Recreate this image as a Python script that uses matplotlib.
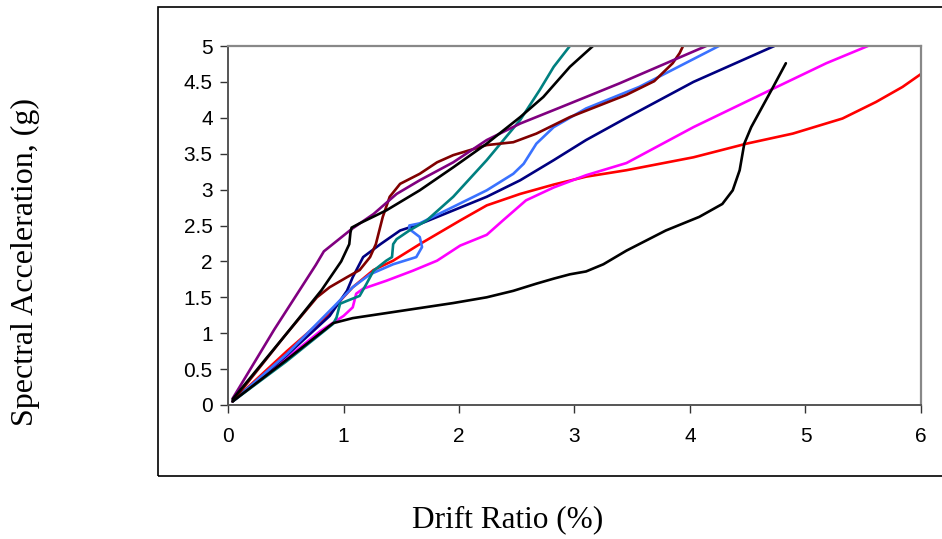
import matplotlib
matplotlib.use("Agg")
import matplotlib.pyplot as plt
from matplotlib.patches import Rectangle
from matplotlib.ticker import FuncFormatter

# ---- data (drift ratio %, spectral acceleration g) ----
black_low_x = [0.04, 0.50, 0.91, 1.08, 1.37, 1.66, 1.95, 2.24, 2.47, 2.67, 2.82, 2.96, 3.10, 3.25, 3.45, 3.79, 4.08, 4.28, 4.37, 4.43, 4.47, 4.53, 4.72, 4.83]
black_low_y = [0.05, 0.62, 1.14, 1.21, 1.28, 1.35, 1.42, 1.50, 1.59, 1.69, 1.76, 1.82, 1.86, 1.96, 2.15, 2.43, 2.62, 2.80, 2.99, 3.27, 3.64, 3.87, 4.43, 4.76]

red_x = [0.04, 0.51, 0.88, 0.97, 1.08, 1.26, 1.43, 1.66, 2.01, 2.24, 2.53, 2.82, 3.10, 3.45, 4.03, 4.49, 4.89, 5.32, 5.61, 5.84, 6.00]
red_y = [0.05, 0.75, 1.27, 1.45, 1.64, 1.88, 2.01, 2.24, 2.57, 2.78, 2.94, 3.07, 3.18, 3.27, 3.45, 3.64, 3.78, 3.99, 4.22, 4.43, 4.61]

magenta_x = [0.04, 0.50, 0.80, 1.00, 1.08, 1.11, 1.17, 1.37, 1.60, 1.81, 2.01, 2.24, 2.38, 2.58, 2.82, 3.10, 3.45, 4.03, 4.70, 5.18, 5.54]
magenta_y = [0.05, 0.64, 1.03, 1.24, 1.36, 1.55, 1.62, 1.73, 1.87, 2.01, 2.22, 2.37, 2.57, 2.85, 3.03, 3.20, 3.37, 3.87, 4.39, 4.76, 5.00]

navy_x = [0.04, 0.50, 0.88, 1.03, 1.08, 1.17, 1.32, 1.49, 1.66, 1.95, 2.24, 2.53, 2.82, 3.10, 3.45, 4.03, 4.73]
navy_y = [0.05, 0.68, 1.24, 1.59, 1.78, 2.06, 2.24, 2.43, 2.52, 2.71, 2.90, 3.13, 3.41, 3.69, 4.00, 4.50, 5.00]

lightblue_x = [0.04, 0.51, 0.91, 1.08, 1.23, 1.43, 1.63, 1.68, 1.66, 1.57, 1.57, 1.66, 1.95, 2.24, 2.47, 2.56, 2.67, 2.82, 3.10, 3.56, 4.25]
lightblue_y = [0.05, 0.71, 1.36, 1.64, 1.82, 1.96, 2.06, 2.20, 2.34, 2.45, 2.50, 2.53, 2.76, 2.99, 3.22, 3.36, 3.64, 3.87, 4.13, 4.43, 5.00]

purple_x = [0.04, 0.40, 0.76, 0.83, 1.07, 1.26, 1.46, 1.66, 1.95, 2.24, 2.53, 2.87, 3.10, 3.39, 4.14]
purple_y = [0.09, 1.05, 1.95, 2.14, 2.45, 2.66, 2.94, 3.13, 3.38, 3.69, 3.92, 4.14, 4.29, 4.48, 5.00]

maroon_x = [0.04, 0.50, 0.77, 0.88, 1.03, 1.14, 1.23, 1.28, 1.34, 1.40, 1.49, 1.66, 1.81, 1.95, 2.24, 2.47, 2.67, 2.96, 3.45, 3.69, 3.85, 3.91, 3.94]
maroon_y = [0.05, 0.98, 1.50, 1.64, 1.78, 1.88, 2.06, 2.24, 2.62, 2.90, 3.08, 3.22, 3.38, 3.48, 3.62, 3.66, 3.78, 4.01, 4.32, 4.51, 4.76, 4.90, 5.00]

teal_x = [0.04, 0.50, 0.91, 0.94, 0.97, 1.03, 1.14, 1.20, 1.26, 1.37, 1.42, 1.43, 1.46, 1.57, 1.72, 1.95, 2.24, 2.53, 2.70, 2.82, 2.96]
teal_y = [0.05, 0.60, 1.13, 1.22, 1.41, 1.45, 1.52, 1.69, 1.87, 2.01, 2.06, 2.24, 2.31, 2.43, 2.57, 2.90, 3.41, 3.97, 4.39, 4.71, 5.00]

black_up_x = [0.04, 0.50, 0.81, 0.98, 1.05, 1.06, 1.07, 1.14, 1.37, 1.66, 1.95, 2.24, 2.53, 2.73, 2.96, 3.16]
black_up_y = [0.08, 0.98, 1.60, 2.00, 2.24, 2.40, 2.47, 2.53, 2.71, 2.99, 3.31, 3.64, 4.01, 4.29, 4.71, 5.00]

series = [
    (red_x, red_y, "#ff0000"),
    (magenta_x, magenta_y, "#ff00ff"),
    (navy_x, navy_y, "#000080"),
    (lightblue_x, lightblue_y, "#3a72ff"),
    (teal_x, teal_y, "#008080"),
    (maroon_x, maroon_y, "#800000"),
    (purple_x, purple_y, "#800080"),
    (black_up_x, black_up_y, "#000000"),
    (black_low_x, black_low_y, "#000000"),
]

x_ticks = [0, 1, 2, 3, 4, 5, 6]
y_ticks = [0, 0.5, 1, 1.5, 2, 2.5, 3, 3.5, 4, 4.5, 5]

W, H = 942, 539
fig = plt.figure(figsize=(W / 100, H / 100), dpi=100)
fig.patch.set_facecolor("white")

# outer chart frame
fig.patches.append(Rectangle((157.5 / W, 1 - 475.5 / H), (W + 10 - 157.5) / W, (475.5 - 6.5) / H,
                             transform=fig.transFigure, fill=False, edgecolor="black", lw=1.2, clip_on=False))

ax = fig.add_axes([228 / W, 1 - 405 / H, (921 - 228) / W, (405 - 46) / H])
for xs, ys, c in series:
    ax.plot(xs, ys, color=c, lw=1.9, solid_joinstyle="round", solid_capstyle="round")

ax.set_xlim(0, 6)
ax.set_ylim(0, 5)
ax.set_xticks(x_ticks)
ax.set_yticks(y_ticks)
fmt = FuncFormatter(lambda v, p: f"{v:g}")
ax.xaxis.set_major_formatter(fmt)
ax.yaxis.set_major_formatter(fmt)
for s in ["top", "right"]:
    ax.spines[s].set_color("#888888")
    ax.spines[s].set_linewidth(1.6)
for s in ["left", "bottom"]:
    ax.spines[s].set_color("#555555")
    ax.spines[s].set_linewidth(1.4)
ax.tick_params(direction="out", length=6, width=1, color="#333333",
               labelsize=15, labelfontfamily="Liberation Sans")
ax.tick_params(axis="x", pad=10)
ax.tick_params(axis="y", pad=5)

fig.text(25 / W, 1 - 262 / H, "Spectral Acceleration, (g)", rotation=90, ha="center", va="center",
         fontsize=23, family="Liberation Serif")
fig.text(508 / W, 1 - 520 / H, "Drift Ratio (%)", ha="center", va="center",
         fontsize=22.5, family="Liberation Serif")

fig.savefig("out.png", dpi=100, facecolor="white")
